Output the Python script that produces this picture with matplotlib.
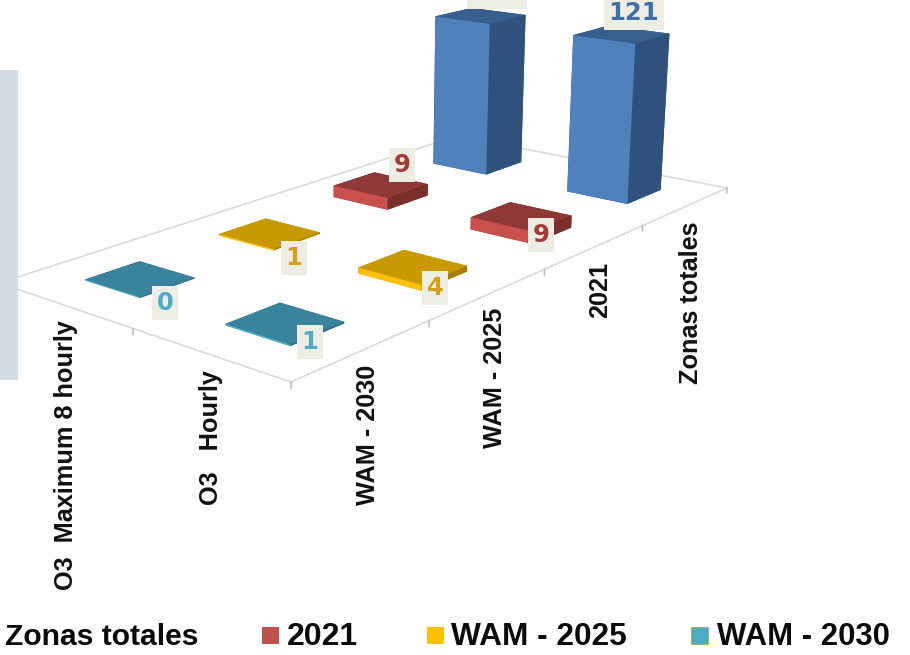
import numpy as np
import matplotlib
matplotlib.use('Agg')
import matplotlib.pyplot as plt
from matplotlib.patches import Rectangle

# Values, one list per series, in metric order
metrics = ['O3  Maximum 8 hourly', 'O3   Hourly']
series_names = ['WAM - 2030', 'WAM - 2025', '2021', 'Zonas totales']
wam_2030 = [0, 1]
wam_2025 = [1, 4]
y_2021 = [9, 9]
zonas_totales = [121, 121]
series_values = [wam_2030, wam_2025, y_2021, zonas_totales]

# (front, top, side) shades per series
shades = {
    'WAM - 2030': ('#4BACC6', '#3A839C', '#2F6A7F'),
    'WAM - 2025': ('#FFC000', '#C99A00', '#A67F00'),
    '2021': ('#C9504D', '#8F3937', '#7A2F2D'),
    'Zonas totales': ('#4F81BD', '#38608F', '#2F527C'),
}
label_colors = {'WAM - 2030': '#4BACC6', 'WAM - 2025': '#D4A017',
                '2021': '#A33B38', 'Zonas totales': '#3F6FA8'}

W, H = 910, 655
BAR_U, BAR_V = 0.41, 0.39
BAR_SHIFT = 0.012


def floor_homography():
    # floor corners (u, v) -> pixels of the reference
    src = [(0, 0), (2, 0), (2, 4), (0, 4)]
    dst = [(-1, 283), (291, 382), (727, 188), (457, 136)]
    A, b = [], []
    for (u, v), (x, y) in zip(src, dst):
        A.append([u, v, 1, 0, 0, 0, -u * x, -v * x])
        A.append([0, 0, 0, u, v, 1, -u * y, -v * y])
        b += [x, y]
    return np.append(np.linalg.solve(np.array(A, float), np.array(b, float)), 1).reshape(3, 3)


def make_projection(ax):
    h = floor_homography()
    w0 = h[2] @ np.array([1.5, 3.2, 1.0])
    c = -1.28 * w0 / 5300.0
    base = np.array([
        [h[0, 0], h[0, 1], 363 * c, h[0, 2]],
        [h[1, 0], h[1, 1], 5500 * c, h[1, 2]],
        [h[2, 0], h[2, 1], c, h[2, 2]],
    ])

    def get_proj():
        flip = np.array([[1, 0, 0], [0, -1, H], [0, 0, 1.0]])
        to_view = np.linalg.inv(ax.transData.get_affine().get_matrix())
        top = to_view @ flip @ base
        depth = base[2].copy()
        depth[3] -= 0.3
        return np.vstack([top[0], top[1], depth, top[2]])
    return get_proj


plt.rcParams['font.family'] = 'Liberation Sans'
plt.rcParams['font.weight'] = 'bold'

fig = plt.figure(figsize=(W / 100, H / 100), dpi=100)
ax = fig.add_axes([0, (H - W) / 2 / H, 1, W / H], projection='3d', computed_zorder=False)
# ortho only switches off the behind-the-camera clipping of lines, get_proj is replaced below
ax.set_proj_type('ortho')
ax.get_proj = make_projection(ax)
ax.set_axis_off()

# floor outline and ticks
grid = '#D9D9D9'
ax.plot([0, 2, 2], [0, 0, 4], [0, 0, 0], color=grid, lw=1.2, zorder=1)
ax.plot([0, 0, 2], [0, 4, 4], [0, 0, 0], color=grid, lw=1.2, zorder=1)
for u in [1, 2]:
    ax.plot([u, u], [0, 0], [0, -4], color='#BFBFBF', lw=1.2, zorder=1)
for v in range(1, 5):
    ax.plot([2, 2], [v, v], [0, -4], color='#BFBFBF', lw=1.2, zorder=1)

# bars, back rows first
for j in range(len(series_names) - 1, -1, -1):
    name = series_names[j]
    front, top, side = shades[name]
    for i in range(len(metrics)):
        val = series_values[j][i]
        ax.bar3d([i + 0.5 - BAR_U / 2 + BAR_SHIFT], [j + 0.5 - BAR_V / 2 + BAR_SHIFT], [0],
                 BAR_U, BAR_V, [max(val, 0.6)], color=[top, top, front, side, side, side],
                 shade=False, zorder=5 + (3 - j) * 2 + i)

# hand placed data labels, as on the slide
label_px = {
    'WAM - 2030': [(165, 303), (310, 342)],
    'WAM - 2025': [(294, 258), (435, 288)],
    '2021': [(402, 165), (541, 235)],
    'Zonas totales': [(497, -8), (634, 13)],
}
for j, name in enumerate(series_names):
    for i in range(len(metrics)):
        x, y = label_px[name][i]
        fig.text(x / W, 1 - y / H, str(series_values[j][i]), color=label_colors[name],
                 fontsize=17.5, family='DejaVu Sans', weight='bold', ha='center', va='center',
                 bbox=dict(facecolor='#EEEDE4', edgecolor='none', pad=3.5))

# axis labels, rotated and hanging from the floor
tick_labels = metrics + series_names
tick_px = [(66, 320), (211, 370), (368, 365), (495, 308), (600, 262), (691, 222)]
for text, (x, y) in zip(tick_labels, tick_px):
    fig.text(x / W, 1 - y / H, text, rotation=90, ha='center', va='top',
             fontsize=18.2, color='#111111')

# pale panel on the left edge of the slide
fig.add_artist(Rectangle((0, 1 - 380 / H), 18 / W, 310 / H, transform=fig.transFigure,
                         facecolor='#D6DCE5', edgecolor='none', zorder=4))

# legend, the first entry has no visible swatch on the slide
legend_px = [('Zonas totales', None, 5, 21.6), ('2021', 262, 287, 23),
             ('WAM - 2025', 427, 451, 22.8), ('WAM - 2030', 691, 717, 22.4)]
legend_colors = {'2021': '#C0504D', 'WAM - 2025': '#FFC000', 'WAM - 2030': '#4BACC6'}
for name, sx, tx, size in legend_px:
    fig.text(tx / W, 1 - 645 / H, name, fontsize=size, ha='left', va='baseline', color='#0A0A0A')
    if sx is not None:
        fig.add_artist(Rectangle((sx / W, 1 - 644 / H), 17 / W, 17 / H, transform=fig.transFigure,
                                 facecolor=legend_colors[name], edgecolor='#9BBB59' if name == 'WAM - 2030' else 'none',
                                 lw=0.8))

fig.savefig('out.png', dpi=100)
